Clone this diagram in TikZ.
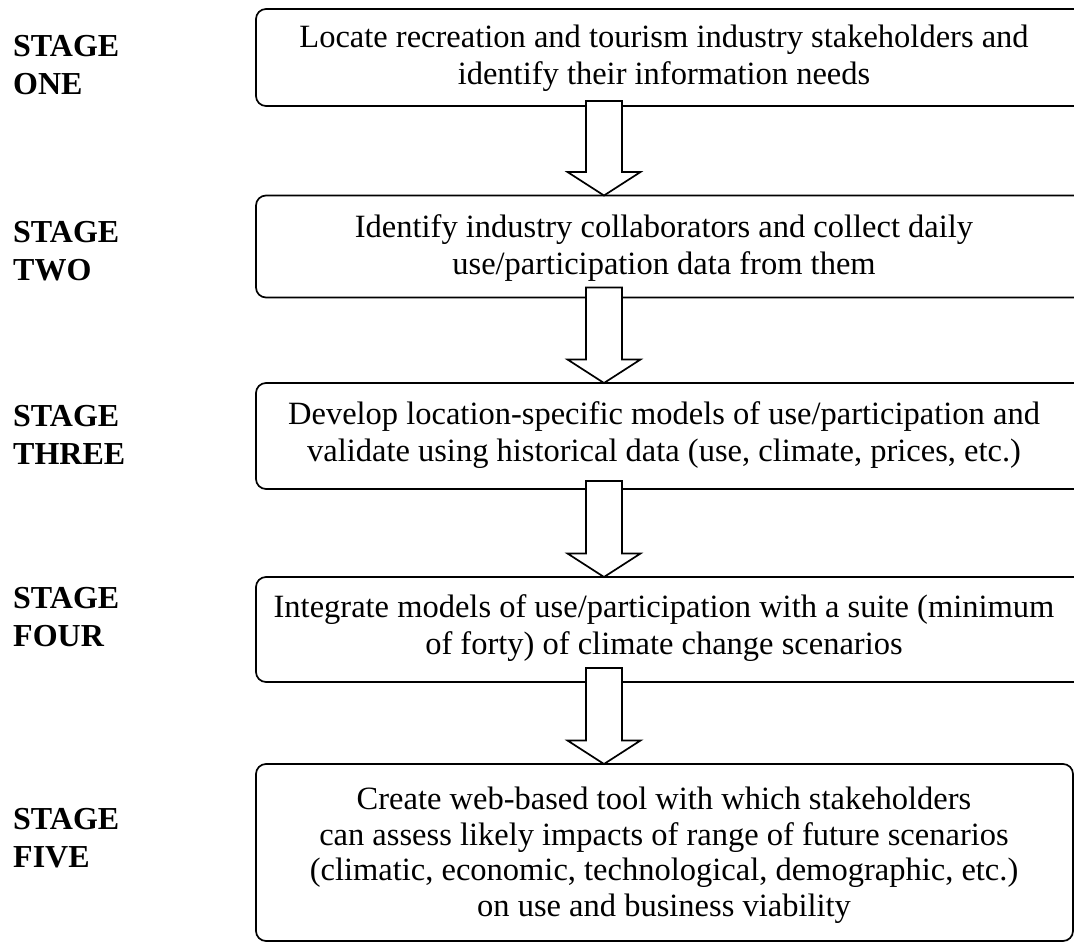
\documentclass[tikz,border=0pt]{standalone}
\usepackage{fontspec}
\setmainfont{Liberation Serif}
\usetikzlibrary{calc}
\tikzset{
  stagebox/.style={draw, line width=1.7pt, rounded corners=10pt, outer sep=0pt, inner sep=0pt},
  boxtext/.style={align=center, inner sep=0pt, font=\fontsize{32.5}{37}\selectfont},
  stagelabel/.style={align=left, anchor=west, inner sep=0pt, font=\fontsize{32}{38}\selectfont\bfseries},
  blockarrow/.style={draw, fill=white, line width=1.7pt, line join=miter}
}
\newcommand\myblockarrow[2]{%
  \draw[blockarrow] let \p1=(#1), \p2=(#2) in
    (\x1-18pt,\y1) -- (\x1+18pt,\y1) -- (\x1+18pt,\y2+23.5pt) -- (\x1+36.5pt,\y2+23.5pt)
    -- (\x2,\y2) -- (\x1-36.5pt,\y2+23.5pt) -- (\x1-18pt,\y2+23.5pt) -- cycle;}
\begin{document}
\begin{tikzpicture}[x=1pt,y=-1pt]
\useasboundingbox (0,0) rectangle (1074,942);
\clip (0,0) rectangle (1074,942);
\fill[white] (0,0) rectangle (1074,942);

% boxes
\node[stagebox, minimum width=834pt, minimum height=97pt] (b1) at (673,57.5) {};
\node[stagebox, minimum width=834pt, minimum height=102pt] (b2) at (673,246.5) {};
\node[stagebox, minimum width=834pt, minimum height=106pt] (b3) at (673,436) {};
\node[stagebox, minimum width=834pt, minimum height=105pt] (b4) at (673,629.5) {};
\node[stagebox, minimum width=817pt, minimum height=177pt] (b5) at (664.5,852.5) {};

% arrows
\coordinate (ax) at (604,0);
\coordinate (s1) at ($(b1.south -| ax)+(0,-5)$);
\coordinate (s2) at ($(b2.south -| ax)+(0,-10)$);
\coordinate (s3) at ($(b3.south -| ax)+(0,-8)$);
\coordinate (s4) at ($(b4.south -| ax)+(0,-14)$);
\coordinate (e1) at (b2.north -| ax);
\coordinate (e2) at (b3.north -| ax);
\coordinate (e3) at (b4.north -| ax);
\coordinate (e4) at (b5.north -| ax);
\myblockarrow{s1}{e1}
\myblockarrow{s2}{e2}
\myblockarrow{s3}{e3}
\myblockarrow{s4}{e4}

% box texts
\node[boxtext] (t1) at (664,58) {Locate recreation and tourism industry stakeholders and\\identify their information needs};
\node[boxtext] (t2) at (664,248) {Identify industry collaborators and collect daily\\use/participation data from them};
\node[boxtext] (t3) at (664,435) {Develop location-specific models of use/participation and\\validate using historical data (use, climate, prices, etc.)};
\node[boxtext] (t4) at (664,628) {Integrate models of use/participation with a suite (minimum\\of forty) of climate change scenarios};
\node[boxtext, font=\fontsize{32.5}{35.5}\selectfont] (t5) at (664,855) {Create web-based tool with which stakeholders\\can assess likely impacts of range of future scenarios\\(climatic, economic, technological, demographic, etc.)\\on use and business viability};

% stage labels
\node[stagelabel] (l1) at (13,65.5) {STAGE\\ONE};
\node[stagelabel] (l2) at (13,251) {STAGE\\TWO};
\node[stagelabel] (l3) at (13,434.5) {STAGE\\THREE};
\node[stagelabel] (l4) at (13,617) {STAGE\\FOUR};
\node[stagelabel] (l5) at (13,838) {STAGE\\FIVE};
\end{tikzpicture}
\end{document}
